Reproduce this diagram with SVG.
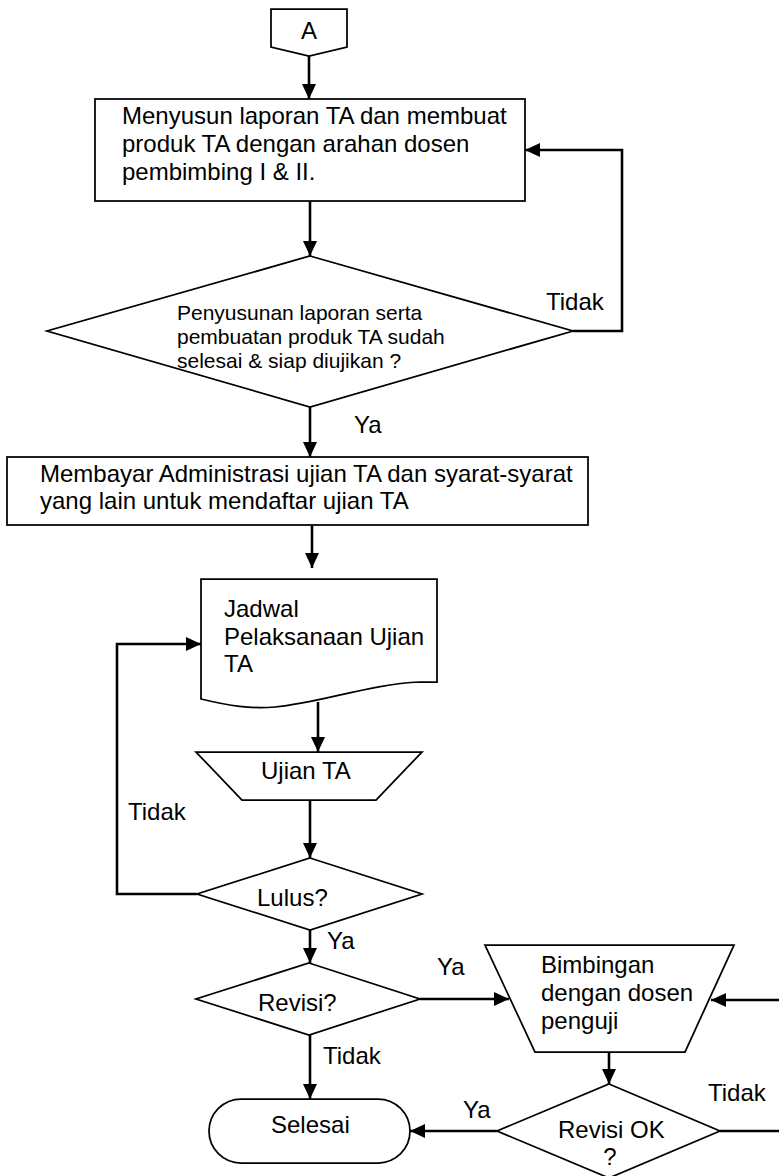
<svg xmlns="http://www.w3.org/2000/svg" width="779" height="1176" viewBox="0 0 779 1176">
<defs>
<style>
.s{fill:#fff;stroke:#000;stroke-width:1.75}
.c{fill:none;stroke:#000;stroke-width:2.6}
text{font-family:"Liberation Sans",Arial,sans-serif;font-size:24px;fill:#000}
.sm{font-size:21px}
</style>
<marker id="arr" markerUnits="userSpaceOnUse" markerWidth="15" markerHeight="14" refX="15" refY="7" orient="auto">
<path d="M0,0 L15,7 L0,14 z" fill="#000"/>
</marker>
</defs>
<rect width="779" height="1176" fill="#fff"/>
<g id="connectors">
<path class="c" d="M309,56 V99" marker-end="url(#arr)"/>
<path class="c" d="M310,201 V256" marker-end="url(#arr)"/>
<path class="c" d="M573,331 H622 V150 H525" marker-end="url(#arr)"/>
<path class="c" d="M310,407 V457" marker-end="url(#arr)"/>
<path class="c" d="M312,525 V568" marker-end="url(#arr)"/>
<path class="c" d="M318,702 V752" marker-end="url(#arr)"/>
<path class="c" d="M310,801 V858" marker-end="url(#arr)"/>
<path class="c" d="M197,894 H117 V644 H201" marker-end="url(#arr)"/>
<path class="c" d="M310,929 V963" marker-end="url(#arr)"/>
<path class="c" d="M420,999 H509" marker-end="url(#arr)"/>
<path class="c" d="M310,1035 V1099" marker-end="url(#arr)"/>
<path class="c" d="M609,1052 V1084" marker-end="url(#arr)"/>
<path class="c" d="M497,1131 H410" marker-end="url(#arr)"/>
<path class="c" d="M720,1131 H800 V1000 H711" marker-end="url(#arr)"/>
<text x="546" y="310">Tidak</text>
<text x="354" y="433">Ya</text>
<text x="128" y="820">Tidak</text>
<text x="327" y="949">Ya</text>
<text x="437" y="975">Ya</text>
<text x="323" y="1064">Tidak</text>
<text x="463" y="1118">Ya</text>
<text x="708" y="1101">Tidak</text>
</g>
<g id="connector-A">
<path class="s" d="M271,9 H347 V47 L309,56 L271,47 Z"/>
<text x="309" y="39" text-anchor="middle">A</text>
</g>
<g id="menyusun">
<rect class="s" x="95" y="99" width="430" height="102"/>
<text x="122" y="124">Menyusun laporan TA dan membuat</text>
<text x="122" y="152">produk TA dengan arahan dosen</text>
<text x="122" y="180">pembimbing I &amp; II.</text>
</g>
<g id="cek-selesai">
<polygon class="s" points="310,256 573,331 310,407 47,331"/>
<text class="sm" x="177" y="320">Penyusunan laporan serta</text>
<text class="sm" x="177" y="344">pembuatan produk TA sudah</text>
<text class="sm" x="177" y="368">selesai &amp; siap diujikan ?</text>
</g>
<g id="membayar">
<rect class="s" x="7" y="457" width="581" height="68"/>
<text x="40" y="482">Membayar Administrasi ujian TA dan syarat-syarat</text>
<text x="40" y="509">yang lain untuk mendaftar ujian TA</text>
</g>
<g id="jadwal">
<path class="s" d="M201,579 H437 V682 L420,682 C370,684 320,703 275,707 C250,709 230,706 201,699 Z"/>
<text x="224" y="617">Jadwal</text>
<text x="224" y="645">Pelaksanaan Ujian</text>
<text x="224" y="672">TA</text>
</g>
<g id="ujian">
<polygon class="s" points="196,752 422,752 376,800 242,800"/>
<text x="261" y="779">Ujian TA</text>
</g>
<g id="lulus">
<polygon class="s" points="310,858 422,894 310,930 197,894"/>
<text x="257" y="906">Lulus?</text>
</g>
<g id="revisi">
<polygon class="s" points="309,963 420,999 309,1035 196,999"/>
<text x="258" y="1011">Revisi?</text>
</g>
<g id="bimbingan">
<polygon class="s" points="485,945 734,945 685,1052 535,1052"/>
<text x="541" y="973">Bimbingan</text>
<text x="541" y="1001">dengan dosen</text>
<text x="541" y="1029">penguji</text>
</g>
<g id="revisi-ok">
<polygon class="s" points="609,1084 720,1131 609,1178 497,1131"/>
<text x="558" y="1138">Revisi OK</text>
<text x="610" y="1165" text-anchor="middle">?</text>
</g>
<g id="selesai">
<rect class="s" x="209" y="1099" width="201" height="64" rx="32" ry="32"/>
<text x="271" y="1133">Selesai</text>
</g>
</svg>
